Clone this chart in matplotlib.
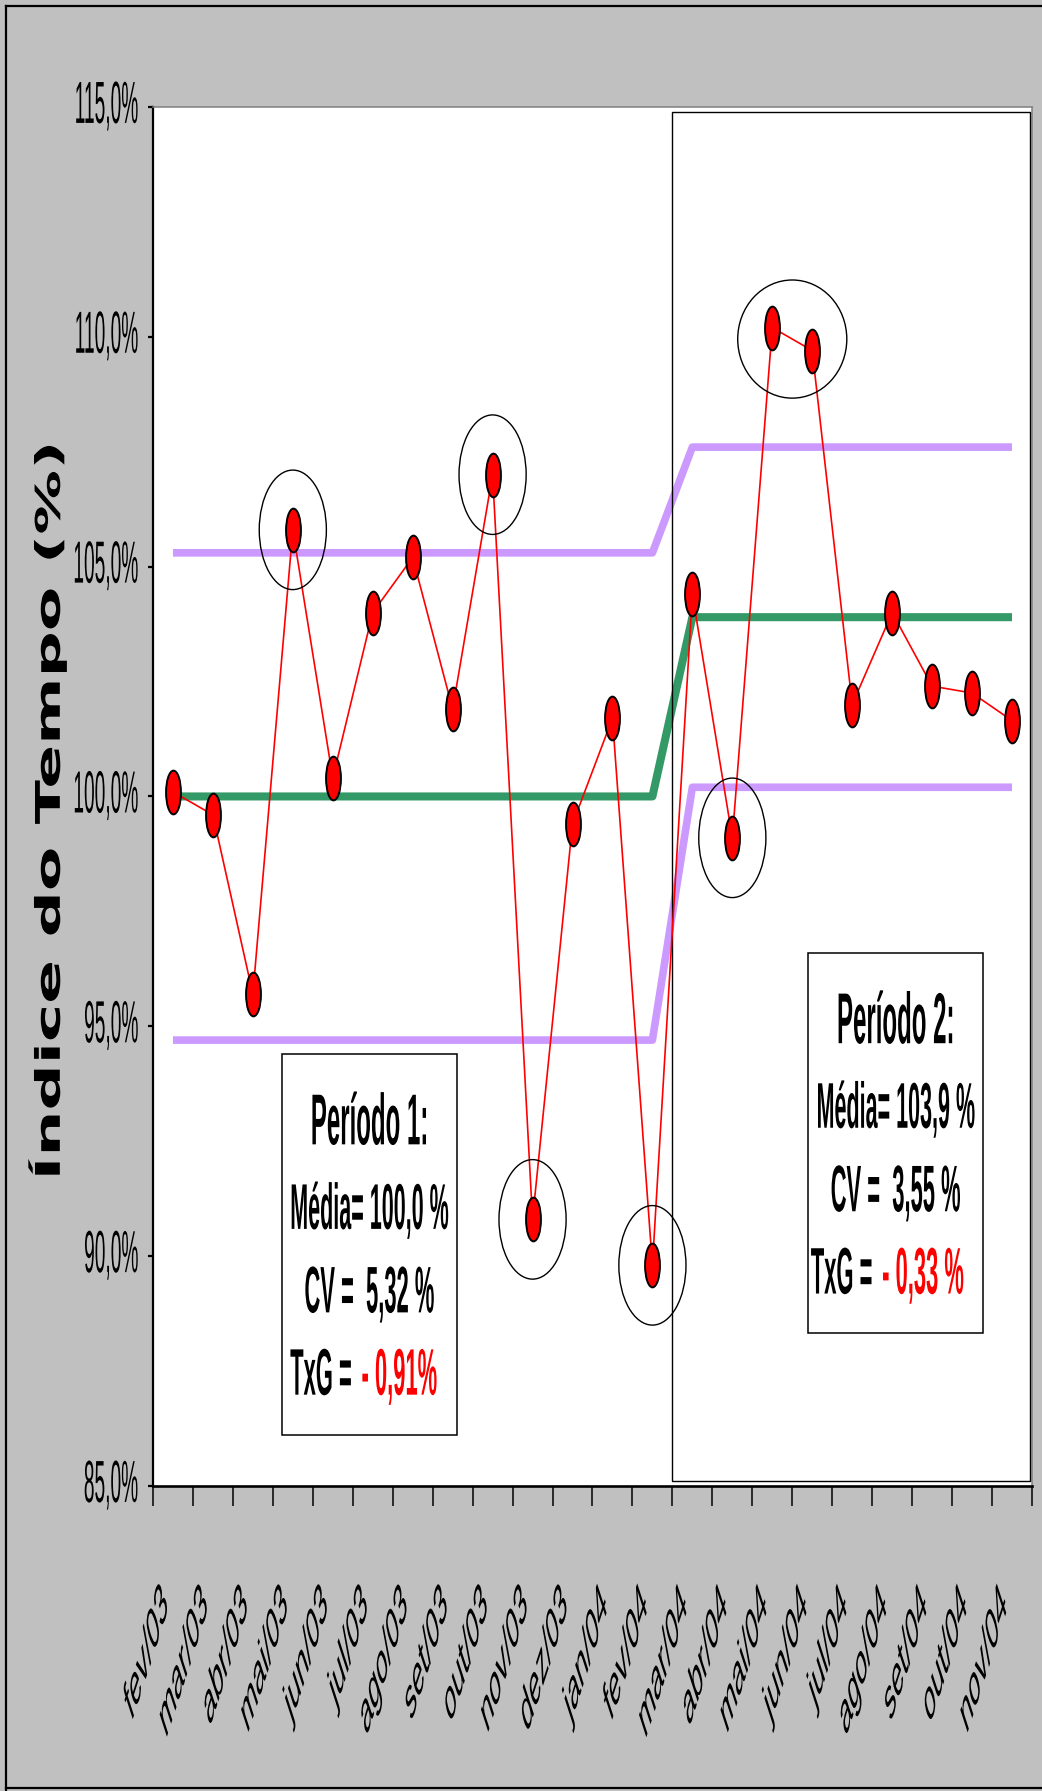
import numpy as np
import matplotlib
matplotlib.use("Agg")
import matplotlib.pyplot as plt
from matplotlib import patheffects
from matplotlib.patches import Ellipse, Rectangle
from matplotlib.lines import Line2D
from matplotlib.path import Path
from matplotlib.transforms import Affine2D, ScaledTranslation

plt.rcParams["font.family"] = ["Liberation Sans", "DejaVu Sans"]

# dados
meses = ["fev/03", "mar/03", "abr/03", "mai/03", "jun/03", "jul/03", "ago/03",
         "set/03", "out/03", "nov/03", "dez/03", "jan/04", "fev/04", "mar/04",
         "abr/04", "mai/04", "jun/04", "jul/04", "ago/04", "set/04", "out/04",
         "nov/04"]
indice = [100.1, 99.6, 95.7, 105.8, 100.4, 104.0, 105.2, 101.9, 107.0, 90.8,
          99.4, 101.7, 89.8, 104.4, 99.1, 110.2, 109.7, 102.0, 104.0, 102.4,
          102.25, 101.65]

n_periodo = [13, 9]
media = [100.0, 103.9]
lim_sup = [105.3, 107.6]
lim_inf = [94.7, 100.2]
cv_txt = ["5,32 %", "3,55 %"]
txg_txt = ["- 0,91%", "- 0,33 %"]

destaque = [3, 8, 9, 12, 14]
destaque_par = [15, 16]
y_ticks = [85, 90, 95, 100, 105, 110, 115]

VERDE = "#339966"
LILAS = "#CC99FF"
CINZA = "#C0C0C0"


class Estica(patheffects.AbstractPathEffect):
    """Estica o texto na vertical (coordenadas de tela) em torno de um ponto do glifo."""

    def __init__(self, sy, fx=0.5, gy=36.0):
        super().__init__()
        self.sy = sy
        self.fx = fx
        self.gy = gy

    def draw_path(self, renderer, gc, tpath, affine, rgbFace=None):
        ext = tpath.get_extents()
        gx = ext.x0 + self.fx * ext.width
        px, py = affine.transform((gx, self.gy))
        st = Affine2D().translate(-px, -py).scale(1.0, self.sy).translate(px, py)
        renderer.draw_path(gc, tpath, affine + st, rgbFace)


x = np.arange(len(meses))
linha_media = np.repeat(media, n_periodo)
linha_sup = np.repeat(lim_sup, n_periodo)
linha_inf = np.repeat(lim_inf, n_periodo)

fig = plt.figure(figsize=(10.42, 17.91), dpi=100, facecolor=CINZA)
ax = fig.add_axes([0.1468, 0.1703, 0.8436, 0.7700])
ax.set_facecolor("white")

ax.plot(x, linha_sup, color=LILAS, lw=5.5, solid_capstyle="butt", zorder=2)
ax.plot(x, linha_inf, color=LILAS, lw=5.5, solid_capstyle="butt", zorder=2)
ax.plot(x, linha_media, color=VERDE, lw=5.8, solid_capstyle="butt", zorder=2)

elipse = Affine2D().scale(0.34, 1.0).transform_path(Path.unit_circle())
ax.plot(x, indice, color="red", lw=1.2, marker=elipse, markersize=31.5,
        markerfacecolor="red", markeredgecolor="black", markeredgewidth=1.4,
        zorder=5)

# pontos fora dos limites
for i in destaque:
    ax.add_patch(Ellipse((x[i], indice[i]), 1.68, 2.6, fill=False,
                         edgecolor="black", lw=1.0, zorder=6))
i0, i1 = destaque_par
ax.add_patch(Ellipse(((x[i0] + x[i1]) / 2, (indice[i0] + indice[i1]) / 2),
                     2.73, 2.57, fill=False, edgecolor="black", lw=1.0, zorder=6))

# quadro do período 2
ax.add_patch(Rectangle((12.49, 85.1), 8.96, 29.8, fill=False,
                       edgecolor="black", lw=1.0, zorder=4))

# caixas de texto com as estatísticas
caixas = [(2.73, 86.11, 4.38, 8.29), (15.9, 88.33, 4.38, 8.27)]
txg_split = [4.6, 17.63]
desl = [-1.45, -3.35, -5.16, -6.95]
for k, (bx, by, bw, bh) in enumerate(caixas):
    ax.add_patch(Rectangle((bx, by), bw, bh, facecolor="white",
                           edgecolor="black", lw=1.1, zorder=7))
    cx = bx + bw / 2
    topo = by + bh
    pe = [Estica(3.0)]
    ax.text(cx, topo + desl[0], f"Período {k + 1}:", ha="center", va="center",
            fontsize=17.3, fontweight="bold", path_effects=pe, zorder=8)
    txt_media = f"Média= {media[k]:.1f} %".replace(".", ",")
    ax.text(cx, topo + desl[1], txt_media, ha="center", va="center",
            fontsize=15.5, fontweight="bold", path_effects=pe, zorder=8)
    ax.text(cx, topo + desl[2], f"CV =  {cv_txt[k]}", ha="center", va="center",
            fontsize=15.8, fontweight="bold", path_effects=pe, zorder=8)
    ax.text(txg_split[k] - 0.12, topo + desl[3], "TxG =", ha="right", va="center",
            fontsize=15.8, fontweight="bold", path_effects=pe, zorder=8)
    ax.text(txg_split[k] + 0.12, topo + desl[3], txg_txt[k], ha="left", va="center",
            fontsize=15.8, fontweight="bold", color="red", path_effects=pe, zorder=8)

ax.set_xlim(-0.5, len(meses) - 0.5)
ax.set_ylim(85, 115)

# eixo y
ax.set_yticks(y_ticks, [f"{v:.1f}%".replace(".", ",") for v in y_ticks])
ax.tick_params(axis="y", direction="out", length=3.6, width=1.6, pad=7.2,
               labelsize=13.8)
for lab in ax.get_yticklabels():
    lab.set_path_effects([Estica(3.1)])
    lab.set_transform(lab.get_transform() + ScaledTranslation(0, 0.05, fig.dpi_scale_trans))

# eixo x: traços entre categorias, rótulos no centro
ax.set_xticks(np.arange(len(meses) + 1) - 0.5, [""] * (len(meses) + 1))
ax.set_xticks(x, meses, minor=True)
ax.tick_params(axis="x", which="major", direction="out", length=14.4, width=1.1)
ax.tick_params(axis="x", which="minor", length=0, pad=0, labelsize=14)
for lab in ax.get_xticklabels(minor=True):
    lab.set_rotation(45)
    lab.set_ha("right")
    lab.set_va("top")
    lab.set_rotation_mode("anchor")
    lab.set_path_effects([Estica(3.1, fx=1.0, gy=72.0)])
    lab.set_transform(lab.get_transform() + ScaledTranslation(-0.13, -0.92, fig.dpi_scale_trans))

ax.set_ylabel("Índice do Tempo (%)", fontsize=24.5, fontweight="bold",
              family=["DejaVu Sans"], path_effects=[Estica(1.9)])
ax.yaxis.set_label_coords(-0.098, 0.49)

for lado in ["top", "right"]:
    ax.spines[lado].set_color("#808080")
    ax.spines[lado].set_linewidth(1.1)
ax.spines["left"].set_linewidth(1.6)
ax.spines["bottom"].set_linewidth(1.9)

# moldura da figura
for xs, ys in [([0.0058, 0.0058], [0.0, 0.9966]), ([0.0058, 1.0], [0.9966, 0.9966]),
               ([0.0058, 1.0], [0.0015, 0.0015])]:
    fig.add_artist(Line2D(xs, ys, transform=fig.transFigure, color="black", lw=1.6))

fig.savefig("out.png", dpi=100, facecolor=CINZA)
